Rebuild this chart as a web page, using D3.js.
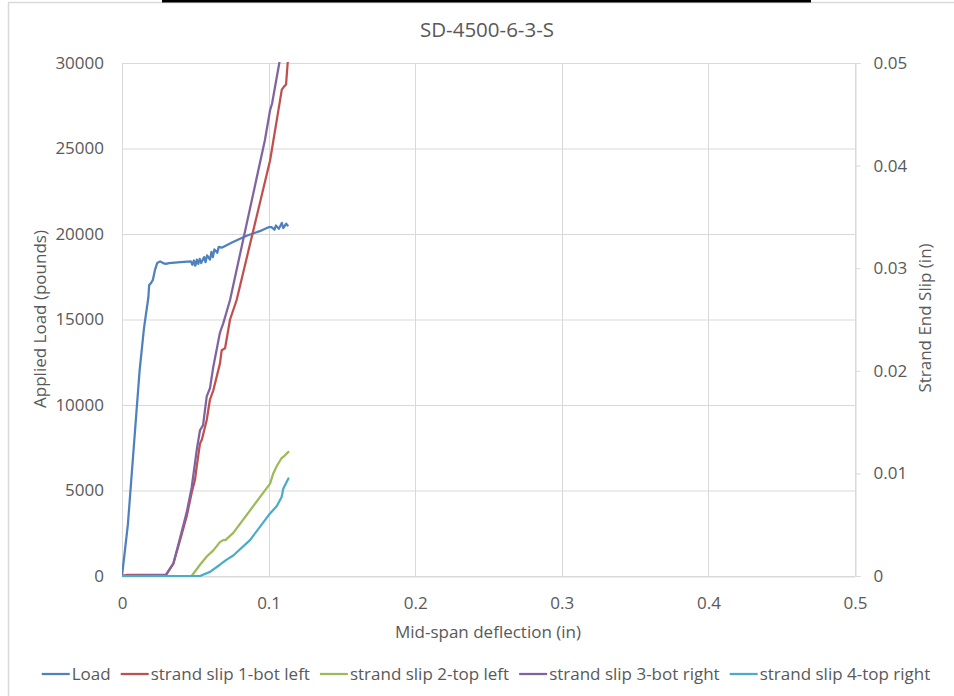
<!DOCTYPE html>
<html><head><meta charset="utf-8">
<script src="https://cdn.jsdelivr.net/npm/d3@7"></script>
<style>
html,body{margin:0;padding:0;background:#fff;}
svg text{font-family:"Open Sans",Lato,"Liberation Sans",sans-serif;fill:#595959;}
</style></head>
<body><svg id="chart" width="954" height="696"></svg>
<script>
const chartTitle = "SD-4500-6-3-S";
const xTicks = [0, 0.1, 0.2, 0.3, 0.4, 0.5];
const yLeftTicks = [0, 5000, 10000, 15000, 20000, 25000, 30000];
const yRightTicks = [0, 0.01, 0.02, 0.03, 0.04, 0.05];
const seriesNames = ["Load", "strand slip 1-bot left", "strand slip 2-top left", "strand slip 3-bot right", "strand slip 4-top right"];
const seriesColors = ["#4F81BD", "#C0504D", "#9BBB59", "#8064A2", "#4BACC6"];

// Load (pounds) vs mid-span deflection (in)
const loadX = [0, 0.004, 0.008, 0.012, 0.015, 0.018, 0.0185, 0.0195, 0.021, 0.0225, 0.024, 0.026, 0.028, 0.03, 0.032, 0.04, 0.047, 0.048, 0.049, 0.05, 0.051, 0.052, 0.053, 0.054, 0.056, 0.057, 0.058, 0.06, 0.061, 0.062, 0.063, 0.065, 0.066, 0.068, 0.075, 0.085, 0.095, 0.1, 0.102, 0.104, 0.105, 0.107, 0.109, 0.11, 0.112, 0.113];
const loadY = [0, 3000, 7500, 12000, 14500, 16300, 17000, 17100, 17300, 17900, 18300, 18400, 18300, 18250, 18300, 18350, 18400, 18200, 18450, 18150, 18500, 18250, 18550, 18300, 18650, 18350, 18750, 18500, 18950, 18650, 19100, 18900, 19250, 19200, 19500, 19900, 20200, 20400, 20400, 20250, 20500, 20300, 20650, 20350, 20600, 20500];

// Strand end slip (in) vs deflection
const slip1X = [0, 0.003, 0.03, 0.035, 0.0396, 0.0441, 0.0475, 0.0498, 0.051, 0.0532, 0.0545, 0.0578, 0.06, 0.0623, 0.0668, 0.068, 0.0703, 0.0737, 0.0782, 0.101, 0.106, 0.109, 0.1105, 0.1119, 0.113, 0.1135];
const slip1Y = [0, 0.0001, 0.0001, 0.0012, 0.0035, 0.0058, 0.0081, 0.0094, 0.0107, 0.0129, 0.0133, 0.0152, 0.0172, 0.0181, 0.0207, 0.022, 0.0222, 0.025, 0.0269, 0.0405, 0.0448, 0.0474, 0.0477, 0.0479, 0.05, 0.0505];

const slip2X = [0, 0.0475, 0.0532, 0.0578, 0.0623, 0.0668, 0.069, 0.0705, 0.0759, 0.101, 0.1032, 0.1055, 0.1089, 0.11, 0.1135];
const slip2Y = [0, 0, 0.0011, 0.0019, 0.0025, 0.0033, 0.0035, 0.0035, 0.0042, 0.009, 0.01, 0.0107, 0.0115, 0.0116, 0.0121];

const slip3X = [0, 0.03, 0.035, 0.0396, 0.0441, 0.0475, 0.051, 0.0532, 0.0553, 0.0578, 0.06, 0.0623, 0.0668, 0.0675, 0.069, 0.0737, 0.0975, 0.101, 0.1023, 0.1073, 0.108];
const slip3Y = [0, 0.0001, 0.0012, 0.0037, 0.0062, 0.0086, 0.0123, 0.0142, 0.0147, 0.0175, 0.0183, 0.0204, 0.0237, 0.024, 0.0246, 0.0269, 0.0425, 0.0454, 0.046, 0.05, 0.0505];

const slip4X = [0, 0.0532, 0.06, 0.0668, 0.0714, 0.0759, 0.0873, 0.101, 0.1055, 0.1089, 0.11, 0.1135];
const slip4Y = [0, 0, 0.0004, 0.0011, 0.0016, 0.002, 0.0035, 0.0061, 0.0068, 0.0077, 0.0085, 0.0095];

const svg = d3.select("#chart");
const W = 954, H = 696;
const m = {left:122, right:855, top:63, bottom:576};
const fs = 17;

// outer frame
svg.append("path").attr("d", `M8.5,${H} L8.5,2.5 L${W},2.5`).attr("fill","none").attr("stroke","#d9d9d9").attr("stroke-width",1.5);
svg.append("rect").attr("x",162).attr("y",0).attr("width",649).attr("height",2.5).attr("fill","#000");

const x = d3.scaleLinear().domain([0,0.5]).range([m.left,m.right]);
const yL = d3.scaleLinear().domain([0,30000]).range([m.bottom,m.top]);
const yR = d3.scaleLinear().domain([0,0.05]).range([m.bottom,m.top]);

// gridlines
svg.append("g").selectAll("line").data(yLeftTicks).join("line")
  .attr("x1",m.left).attr("x2",m.right).attr("y1",d=>yL(d)+0.5).attr("y2",d=>yL(d)+0.5)
  .attr("stroke","#d9d9d9").attr("stroke-width",1);
svg.append("g").selectAll("line").data(xTicks).join("line")
  .attr("x1",d=>Math.round(x(d))+0.5).attr("x2",d=>Math.round(x(d))+0.5).attr("y1",m.top).attr("y2",m.bottom)
  .attr("stroke","#d9d9d9").attr("stroke-width",1);

// axes
const axL = svg.append("g").attr("transform",`translate(${m.left},0)`)
  .call(d3.axisLeft(yL).tickValues(yLeftTicks).tickSize(0).tickPadding(18).tickFormat(d3.format("d")));
const axR = svg.append("g").attr("transform",`translate(${m.right+0.5},0)`)
  .call(d3.axisRight(yR).tickValues(yRightTicks).tickSize(5).tickPadding(13).tickFormat(d=> d===0?"0":d3.format(".2f")(d)));
const axB = svg.append("g").attr("transform",`translate(0,${m.bottom+0.5})`)
  .call(d3.axisBottom(x).tickValues(xTicks).tickSize(0).tickPadding(20).tickFormat(d=> d===0?"0":d3.format(".1f")(d)));
[axL,axR,axB].forEach(a=>{
  a.select(".domain").attr("stroke","#d9d9d9");
  a.selectAll(".tick line").attr("stroke","#d9d9d9");
  a.selectAll("text").attr("font-size",fs).style("fill","#595959").style("font-family","'Open Sans',Lato,sans-serif");
});
axL.select(".domain").remove();

// clip
svg.append("clipPath").attr("id","clip").append("rect")
  .attr("x",m.left).attr("y",m.top-1).attr("width",m.right-m.left).attr("height",m.bottom-m.top+2);

const plot = svg.append("g").attr("clip-path","url(#clip)");
const series = [
  {xs:loadX, ys:loadY, sc:yL},
  {xs:slip1X, ys:slip1Y, sc:yR},
  {xs:slip2X, ys:slip2Y, sc:yR},
  {xs:slip3X, ys:slip3Y, sc:yR},
  {xs:slip4X, ys:slip4Y, sc:yR}
];
series.forEach((s,i)=>{
  const pts = s.xs.map((v,k)=>[v,s.ys[k]]);
  plot.append("path").datum(pts)
    .attr("d", d3.line().x(d=>x(d[0])).y(d=>s.sc(d[1])))
    .attr("fill","none").attr("stroke",seriesColors[i]).attr("stroke-width",2.25)
    .attr("stroke-linejoin","round").attr("stroke-linecap","round");
});

// titles
svg.append("text").attr("x",487).attr("y",37).attr("text-anchor","middle").attr("font-size",20.5).text(chartTitle);
svg.append("text").attr("transform","translate(46,319) rotate(-90)").attr("text-anchor","middle").attr("font-size",fs).text("Applied Load (pounds)");
svg.append("text").attr("transform","translate(931,318) rotate(-90)").attr("text-anchor","middle").attr("font-size",fs).text("Strand End Slip (in)");
svg.append("text").attr("x",488).attr("y",638).attr("text-anchor","middle").attr("font-size",fs).text("Mid-span deflection (in)");

// legend
const leg = svg.append("g");
const lineLen = 28, gap1 = 2, gap2 = 10, legY = 674;
let cx = 0;
seriesNames.forEach((n,i)=>{
  const g = leg.append("g");
  g.append("line").attr("x1",0).attr("x2",lineLen).attr("y1",legY).attr("y2",legY).attr("stroke",seriesColors[i]).attr("stroke-width",2.25);
  const t = g.append("text").attr("x",lineLen+gap1).attr("y",legY).attr("dy","0.35em").attr("font-size",fs).text(n);
  const w = t.node().getComputedTextLength();
  g.attr("transform",`translate(${cx},0)`);
  cx += lineLen+gap1+w+gap2;
});
const total = cx - gap2;
leg.attr("transform",`translate(${486 - total/2},0)`);
</script></body></html>
